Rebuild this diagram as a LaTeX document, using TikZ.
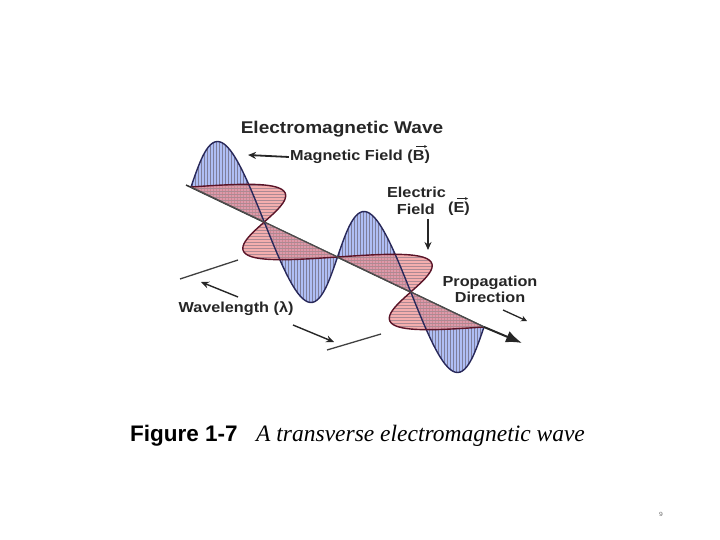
\documentclass[tikz,border=0pt]{standalone}
\usepackage{fontspec}
\setmainfont{Liberation Sans}[FakeStretch=1.12]
\newfontfamily\capserif{Liberation Serif}
\newfontfamily\capsans{Liberation Sans}
\usetikzlibrary{patterns,arrows.meta}
\definecolor{bfill}{RGB}{175,190,245}
\definecolor{rfill}{RGB}{240,140,140}
\definecolor{bline}{RGB}{40,40,90}
\definecolor{rline}{RGB}{90,20,40}
\tikzset{
  bpat/.style={pattern=vertical lines,pattern color=bline!60},
  rpat/.style={pattern=horizontal lines,pattern color=rline!50},
  lbl/.style={font=\bfseries\fontsize{14.5}{16}\selectfont,text=black!85,inner sep=1pt,align=center},
  arr/.style={-{Stealth[length=8pt,width=7pt]},line width=1.8pt,black!85},
  varr/.style={-{Stealth[length=3pt,width=3pt]},line width=0.8pt,black!85},
  wl/.style={line width=1.3pt,black!75}
}
\begin{document}
\begin{tikzpicture}[x=1pt,y=-1pt]
\useasboundingbox (0,0) rectangle (720,540);
\draw[line width=1.5pt,black!80] (186,185) -- (484,327);
\foreach \a in {0,0.5,1,1.5}{
  \fill[bfill] plot[domain=\a:\a+0.5,samples=40,smooth] ({191+146.5*\x-6*sin(360*\x)},{187+70*\x-62*sin(360*\x)}) -- cycle;
  \fill[bpat] plot[domain=\a:\a+0.5,samples=40,smooth] ({191+146.5*\x-6*sin(360*\x)},{187+70*\x-62*sin(360*\x)}) -- cycle;
}
\foreach \a in {0,0.5,1,1.5}{
  \fill[rfill,fill opacity=0.7] plot[domain=\a:\a+0.5,samples=40,smooth] ({191+146.5*\x+58*sin(360*\x)+10*sin(720*\x)},{187+70*\x-10*sin(360*\x)-4*sin(720*\x)}) -- cycle;
  \fill[rpat] plot[domain=\a:\a+0.5,samples=40,smooth] ({191+146.5*\x+58*sin(360*\x)+10*sin(720*\x)},{187+70*\x-10*sin(360*\x)-4*sin(720*\x)}) -- cycle;
}
\draw[bline,line width=1.4pt] plot[domain=0:2,samples=120,smooth] ({191+146.5*\x-6*sin(360*\x)},{187+70*\x-62*sin(360*\x)});
\draw[rline,line width=1.4pt] plot[domain=0:2,samples=120,smooth] ({191+146.5*\x+58*sin(360*\x)+10*sin(720*\x)},{187+70*\x-10*sin(360*\x)-4*sin(720*\x)});
\draw[line width=1.3pt,black!70] (191,187) -- (484,327);
\coordinate (ax) at (484,327);
\coordinate (axe) at (522,343);
\draw[-{Latex[length=16pt,width=12pt]},line width=2pt,black!85] (ax) -- (axe);
\node[lbl,font=\bfseries\fontsize{17}{19}\selectfont] (title) at (342,129) {Electromagnetic Wave};
\node[lbl] (mag) at (360,157) {Magnetic Field (B)};
\draw[varr] ([xshift=-15pt,yshift=2.5pt]mag.north east) -- ([xshift=-4pt,yshift=2.5pt]mag.north east);
\coordinate (magt) at (248,155);
\draw[arr] (mag.west) -- (magt);
\node[lbl,anchor=east] (ele1) at (447,192) {Electric};
\node[lbl,anchor=east] (ele2) at (436,209) {Field};
\node[lbl] (ele3) at (459,209) {(E)};
\draw[varr] ([xshift=-14pt,yshift=2.5pt]ele3.north east) -- ([xshift=-3pt,yshift=2.5pt]ele3.north east);
\coordinate (elet) at (428,250);
\draw[arr] (428,219) -- (elet);
\node[lbl] (prop) at (490,289) {Propagation\\Direction};
\coordinate (props) at (503,310);
\coordinate (prope) at (527,321);
\draw[-{Stealth[length=6pt,width=6pt]},line width=1.3pt,black!85] (props) -- (prope);
\node[lbl] (wave) at (236,309) {Wavelength (λ)};
\coordinate (w1a) at (238,297); \coordinate (w1b) at (201,282);
\draw[arr,line width=1.4pt] (w1a) -- (w1b);
\coordinate (w2a) at (293,325); \coordinate (w2b) at (334,342);
\draw[arr,line width=1.4pt] (w2a) -- (w2b);
\coordinate (l1a) at (180,279); \coordinate (l1b) at (238,260);
\draw[wl] (l1a) -- (l1b);
\coordinate (l2a) at (327,350); \coordinate (l2b) at (381,334);
\draw[wl] (l2a) -- (l2b);
\node[anchor=west,inner sep=0pt,font=\capsans\bfseries\fontsize{22.5}{25}\selectfont] (fig) at (130,436) {Figure 1-7};
\node[anchor=west,inner sep=0pt,font=\capserif\itshape\fontsize{23.5}{26}\selectfont] (cap) at (256,436) {A transverse electromagnetic wave};
\node[font=\fontsize{6}{7}\selectfont,text=black!60] (pg) at (661,514) {9};
\end{tikzpicture}
\end{document}
